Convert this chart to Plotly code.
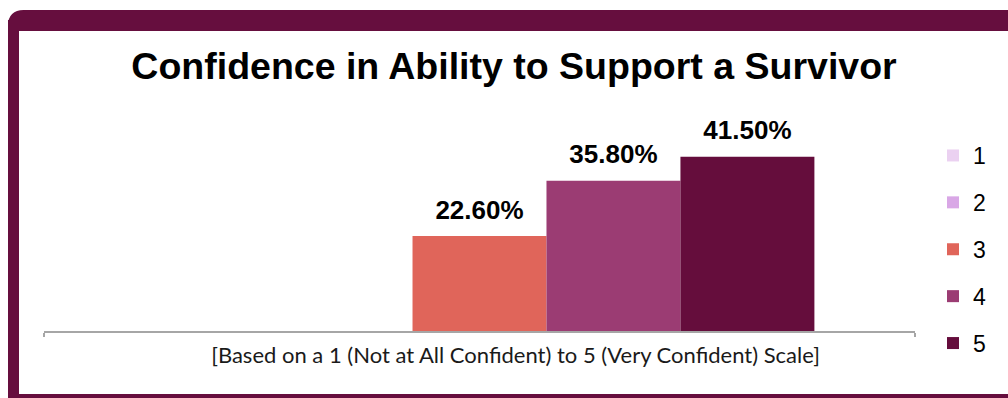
import plotly.graph_objects as go

W, H = 1008, 398

category = ["[Based on a 1 (Not at All Confident) to 5 (Very Confident) Scale]"]
series_names = ["1", "2", "3", "4", "5"]
series_values = [0.0, 0.0, 22.6, 35.8, 41.5]
series_colors = ["#EBD1F1", "#D9A7E6", "#E0655A", "#9B3C73", "#650D3C"]
title_text = "Confidence in Ability to Support a Survivor"

ML, MR, MT, MB = 44, 93, 142, 67
PW, PH = W - ML - MR, H - MT - MB


def px(x):
    return (x - ML) / PW


def py(y):
    return (H - MB - y) / PH


fig = go.Figure()
for name, val, col in zip(series_names, series_values, series_colors):
    fig.add_trace(go.Bar(
        x=category, y=[val], name=name, marker_color=col,
        marker_line_width=0, offsetgroup=name, alignmentgroup="a",
        legendgroup=name,
    ))
for name, val in zip(series_names, series_values):
    fig.add_trace(go.Scatter(
        x=category, y=[val], mode="markers+text",
        marker=dict(size=16, opacity=0),
        text=[f"{val:.2f}%" if val > 0 else ""],
        textposition="top center",
        textfont=dict(family="Liberation Sans, Arial", size=26, color="#000000", weight="bold"),
        cliponaxis=False, showlegend=False, hoverinfo="skip",
        offsetgroup=name, alignmentgroup="a",
    ))

# frame border
r = 10
fig.add_shape(type="path", xref="paper", yref="paper",
              path=(f"M {px(13.5)},{py(60)} L {px(13.5)},{py(15.5 + r)} "
                    f"Q {px(13.5)},{py(15.5)} {px(13.5 + r)},{py(15.5)} L {px(1030)},{py(15.5)}"),
              line=dict(color="#660E3E", width=11), layer="above")
fig.add_shape(type="rect", xref="paper", yref="paper",
              x0=px(13.5), y0=py(15.5 + r), x1=px(1030), y1=py(399.5),
              line=dict(color="#660E3E", width=11), layer="above")

fig.update_layout(
    width=W, height=H,
    margin=dict(l=ML, r=MR, t=MT, b=MB, pad=0),
    paper_bgcolor="#FFFFFF", plot_bgcolor="#FFFFFF",
    barmode="group", bargap=0.231, bargroupgap=0,
    scattermode="group", scattergap=0.231,
    title=dict(text=f"<b>{title_text}</b>", x=514 / W, xanchor="center",
               y=1 - 66 / H, yanchor="middle", xref="container", yref="container",
               font=dict(family="Liberation Sans, Arial", size=37.5, color="#000000")),
    legend=dict(xref="container", yref="container", x=933 / W, xanchor="left",
                y=1 - 134 / H, yanchor="top", tracegroupgap=14, maxheight=300,
                font=dict(family="Liberation Sans, Arial", size=23, color="#000000"),
                bgcolor="rgba(0,0,0,0)", itemclick=False),
    showlegend=True,
    xaxis=dict(showline=True, linecolor="#A6A6A6", linewidth=1.5,
               ticks="outside", tickson="boundaries", ticklen=4, tickcolor="#A6A6A6",
               tickwidth=1.5, ticklabelshift=36, ticklabelstandoff=4,
               tickfont=dict(family="Lato, Open Sans", size=22, color="#1A1A1A"),
               showgrid=False, zeroline=False),
    yaxis=dict(range=[0, 45], visible=False, showgrid=False, zeroline=False),
)

fig.write_html("out.html")
